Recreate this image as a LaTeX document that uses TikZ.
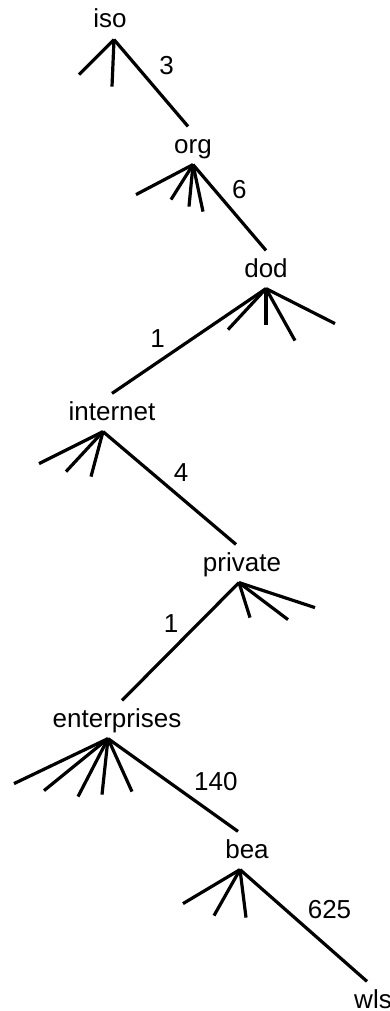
\documentclass[tikz,border=0pt]{standalone}
\usepackage{fontspec}
\setmainfont{Liberation Sans}
\usetikzlibrary{positioning}

\begin{document}
\begin{tikzpicture}[x=0.5pt,y=-0.5pt,line width=1.6pt,
      every node/.style={inner sep=0pt,font=\fontsize{13}{15}\selectfont},
      oid/.style={anchor=base,text height=12.5pt,text depth=5pt},
      lbl/.style={inner sep=2pt}]
      \useasboundingbox(0,0)rectangle(390,1011);
      \node[oid](iso)at(110,28){iso};
      \node[oid](org)at(193,153){org};
      \node[oid](dod)at(266,277){dod};
      \node[oid](internet)at(112,420){internet};
      \node[oid](private)at(242,571){private};
      \node[oid](enterprises)at(117,727){enterprises};
      \node[oid](bea)at(247,858){bea};
      \node[oid](wls)at(373,1008){wls};
      % points where the lines meet under and over the names
      \coordinate(iso-d)at([xshift=2pt]iso.south);
      \coordinate(org-u)at([xshift=-2.5pt]org.north);
      \coordinate(org-d)at(org.south);
      \coordinate(dod-u)at(dod.north);
      \coordinate(dod-d)at(dod.south);
      \coordinate(internet-u)at(internet.north);
      \coordinate(internet-d)at([xshift=-4.5pt]internet.south);
      \coordinate(private-u)at([xshift=-3pt]private.north);
      \coordinate(private-d)at([xshift=-1.5pt]private.south);
      \coordinate(enterprises-u)at([xshift=2.5pt]enterprises.north);
      \coordinate(enterprises-d)at([xshift=-4.5pt]enterprises.south);
      \coordinate(bea-u)at([xshift=-4.5pt]bea.north);
      \coordinate(bea-d)at([xshift=-3.5pt]bea.south);
      \coordinate(wls-u)at([xshift=-3pt]wls.north);
      % path down the tree
      \draw(iso-d)--node[lbl,pos=.47,anchor=south west,xshift=2.5pt]{3}(org-u);
      \draw(org-d)--node[lbl,pos=.46,anchor=south west]{6}(dod-u);
      \draw(dod-d)--node[lbl,pos=.62,anchor=south east]{1}(internet-u);
      \draw(internet-d)--node[lbl,pos=.49,anchor=south west]{4}(private-u);
      \draw(private-d)--node[lbl,pos=.47,anchor=south east]{1}(enterprises-u);
      \draw(enterprises-d)--node[lbl,pos=.62,anchor=south west]{140}(bea-u);
      \draw(bea-d)--node[lbl,pos=.49,anchor=south west]{625}(wls-u);
      % other branches
      \foreach \dx/\dy in {-35/35,-2/47}\draw(iso-d)--++(\dx,\dy);
      \foreach \dx/\dy in {-57/30,-22/35,-4/42,10/47}\draw(org-d)--++(\dx,\dy);
      \foreach \dx/\dy in {-38/41,0/36,29/52,69/35}\draw(dod-d)--++(\dx,\dy);
      \foreach \dx/\dy in {-64/32,-37/40,-12/45}\draw(internet-d)--++(\dx,\dy);
      \foreach \dx/\dy in {11/35,49/37,76/25}\draw(private-d)--++(\dx,\dy);
      \foreach \dx/\dy in {-94/45,-64/52,-30/58,-6/56,24/53}\draw(enterprises-d)--++(\dx,\dy);
      \foreach \dx/\dy in {-57/34,-26/46,6/48}\draw(bea-d)--++(\dx,\dy);
    \end{tikzpicture}
\end{document}
